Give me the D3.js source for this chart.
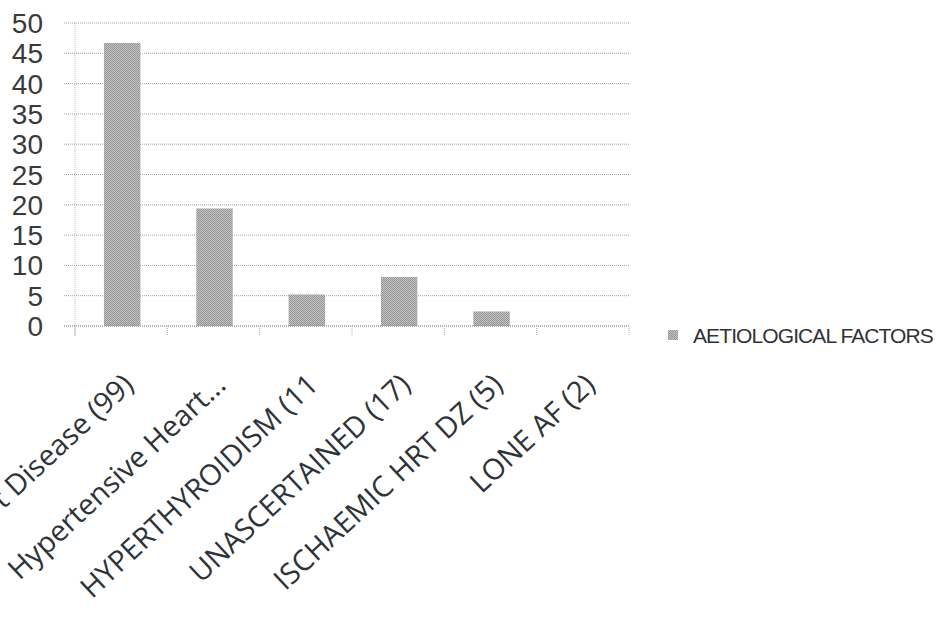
<!DOCTYPE html>
<html><head><meta charset="utf-8">
<script src="https://cdn.jsdelivr.net/npm/d3@7"></script>
<style>body{margin:0;background:#fff}svg{display:block}</style>
</head><body><svg id="c" width="945" height="642"></svg>
<script>
const categories = ["Rheumatic Heart Disease (99)", "Hypertensive Heart...", "HYPERTHYROIDISM (11", "UNASCERTAINED (17)", "ISCHAEMIC HRT DZ (5)", "LONE AF (2)"];
const values = [46.7, 19.4, 5.2, 8.1, 2.4, 0];
const yTicks = [0, 5, 10, 15, 20, 25, 30, 35, 40, 45, 50];
const seriesName = "AETIOLOGICAL FACTORS";

const svg = d3.select("#c");
const defs = svg.append("defs");
const pat = defs.append("pattern").attr("id","dots").attr("width",2).attr("height",2).attr("patternUnits","userSpaceOnUse");
pat.append("rect").attr("width",2).attr("height",2).attr("fill","#c4c4c4");
pat.append("rect").attr("width",1).attr("height",1).attr("fill","#959595");
pat.append("rect").attr("x",1).attr("y",1).attr("width",1).attr("height",1).attr("fill","#959595");

const x = d3.scaleBand().domain(categories).range([75, 629]).padding(0);
const y = d3.scaleLinear().domain([0, 50]).range([326, 23]);

// gridlines
svg.append("g").selectAll("line").data(yTicks).join("line")
  .attr("x1", 64).attr("x2", 629)
  .attr("y1", d => y(d)).attr("y2", d => y(d))
  .attr("stroke", "#a0a0a0").attr("stroke-width", 1).attr("stroke-dasharray", "1,1");

// left axis line
svg.append("line").attr("x1",75).attr("x2",75).attr("y1",y(50)).attr("y2",336)
  .attr("stroke","#b8b8b8").attr("stroke-dasharray","1,1");

// bars
const bw = x.bandwidth() * 0.395;
svg.append("g").selectAll("rect").data(values).join("rect")
  .attr("x", (d,i) => x(categories[i]) + x.bandwidth()/2 - bw/2 + 1)
  .attr("width", bw)
  .attr("y", d => y(d))
  .attr("height", d => y(0) - y(d))
  .attr("fill", "url(#dots)");

// bottom axis
svg.append("line").attr("x1",64).attr("x2",629).attr("y1",y(0)).attr("y2",y(0))
  .attr("stroke","#999").attr("stroke-dasharray","1,1");
const bounds = categories.map(c => x(c)).concat([x.range()[1]]);
svg.append("g").selectAll("line").data(bounds).join("line")
  .attr("x1", d => d).attr("x2", d => d).attr("y1", y(0)).attr("y2", 336)
  .attr("stroke","#b0b0b0").attr("stroke-dasharray","1,1");

// y labels
svg.append("g").selectAll("text").data(yTicks).join("text")
  .attr("x", 43).attr("y", d => y(d)).attr("dy", "0.36em")
  .attr("text-anchor", "end")
  .attr("font-family", "Liberation Sans, Arial, sans-serif")
  .attr("font-size", 28).attr("fill", "#3a3a3a")
  .text(d => d);

// x labels
svg.append("g").selectAll("text").data(categories).join("text")
  .attr("transform", c => `translate(${x(c) + x.bandwidth()/2 + 14},${387}) rotate(-43)`)
  .attr("text-anchor", "end")
  .attr("font-family", "Open Sans, sans-serif")
  .attr("font-size", 29).attr("fill", "#2e3338")
  .text(c => c);

// legend
svg.append("rect").attr("x",668).attr("y",330).attr("width",10).attr("height",10).attr("fill","url(#dots)");
svg.append("text").attr("x",693).attr("y",335).attr("dy","0.36em")
  .attr("font-family","Liberation Sans, Arial, sans-serif").attr("font-size",21)
  .attr("letter-spacing",-0.9)
  .attr("fill","#2e3338")
  .text(seriesName);
</script></body></html>
